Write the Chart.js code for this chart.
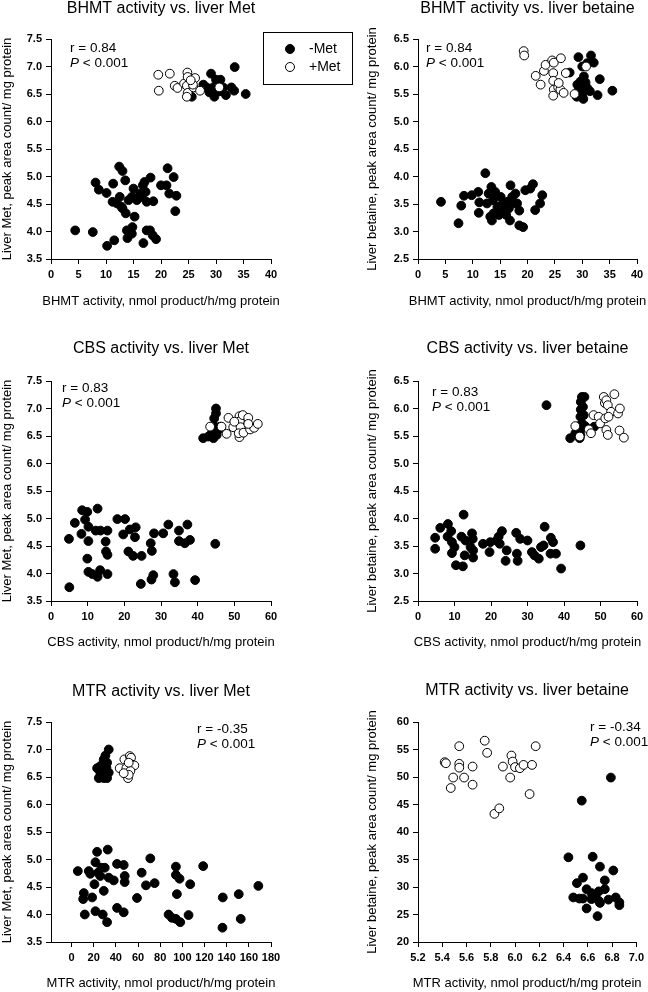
<!DOCTYPE html>
<html lang="en">
<head>
<meta charset="UTF-8">
<title>Enzyme activity vs. liver Met / betaine</title>
<script src="https://cdn.jsdelivr.net/npm/chart.js"></script>
<style>
  html, body { margin: 0; padding: 0; background: #fff; }
  #wrap { position: relative; width: 648px; height: 992px; }
  canvas { position: absolute; }
</style>
</head>
<body>
<div id="wrap">
  <canvas id="c1" width="370" height="320" style="left:0;top:0"></canvas>
  <canvas id="c2" width="324" height="320" style="left:324px;top:0"></canvas>
  <canvas id="c3" width="324" height="330" style="left:0;top:320px"></canvas>
  <canvas id="c4" width="324" height="330" style="left:324px;top:320px"></canvas>
  <canvas id="c5" width="324" height="342" style="left:0;top:650px"></canvas>
  <canvas id="c6" width="324" height="342" style="left:324px;top:650px"></canvas>
</div>
<script>
// groups
const groupLabels = ['-Met', '+Met'];

// tick values
const metTicks = [3.5, 4.0, 4.5, 5.0, 5.5, 6.0, 6.5, 7.0, 7.5];
const betaineTicks = [2.5, 3.0, 3.5, 4.0, 4.5, 5.0, 5.5, 6.0, 6.5];
const betaineTicks2 = [20, 25, 30, 35, 40, 45, 50, 55, 60];
const bhmtTicks = [0, 5, 10, 15, 20, 25, 30, 35, 40];
const cbsTicks = [0, 10, 20, 30, 40, 50, 60];
const mtrTicks = [0, 20, 40, 60, 80, 100, 120, 140, 160, 180];
const mtrTicks2 = [5.2, 5.4, 5.6, 5.8, 6.0, 6.2, 6.4, 6.6, 6.8, 7.0];

// BHMT activity vs. liver Met
const bhmtMetMinus = [[4.4,4.02],[7.6,3.99],[8.1,4.89],[8.7,4.76],[10.1,4.70],[10.2,3.74],[11.5,3.84],[11.3,4.87],[11.2,4.54],[12.4,5.18],[13.0,5.10],[13.5,4.93],[12.5,4.63],[13.0,4.42],[13.6,4.33],[14.1,4.57],[13.8,4.02],[13.9,3.88],[14.8,4.08],[14.7,3.96],[15.2,4.27],[15.0,4.78],[15.6,4.57],[16.2,4.69],[16.7,4.84],[17.0,4.90],[17.2,4.72],[17.4,4.54],[16.8,3.79],[17.4,4.02],[18.0,4.02],[18.1,4.98],[18.6,4.55],[18.5,3.93],[19.1,3.86],[20.0,4.84],[21.0,4.84],[21.2,5.15],[21.5,4.69],[22.3,4.99],[22.8,4.65],[22.6,4.37],[16.5,4.63],[14.7,4.63],[12.0,4.51],[12.8,4.45],
  [29.1,6.87],[30.0,6.76],[30.5,6.66],[30.7,6.55],[29.7,6.45],[28.3,6.62],[27.7,6.67],[25.6,6.45],[33.3,6.56],[31.8,6.48],[32.8,6.62],[33.4,6.99],[35.4,6.50],[31.3,6.62],[30.1,6.58],[29.5,6.62],[28.8,6.53],[30.8,6.76]];
const bhmtMetPlus = [[19.5,6.85],[19.6,6.56],[21.6,6.87],[22.5,6.65],[23.0,6.61],[24.2,6.69],[24.8,6.89],[24.85,6.81],[24.7,6.65],[24.85,6.52],[24.7,6.45],[26.2,6.79],[25.9,6.62],[25.8,6.67],[27.1,6.56],[30.6,6.62],[25.4,6.75]];

// BHMT activity vs. liver betaine
const bhmtBetMinus = [[4.2,3.54],[7.4,3.15],[7.9,3.47],[8.4,3.65],[9.8,3.66],[11.0,3.72],[11.2,3.53],[11.1,3.34],[12.3,4.06],[12.9,3.69],[13.4,3.81],[13.7,3.57],[14.1,3.72],[13.5,3.20],[14.5,3.45],[14.8,3.30],[15.5,3.51],[16.0,3.39],[16.3,3.54],[16.8,3.20],[16.9,3.84],[17.2,3.63],[17.5,3.51],[17.8,3.69],[18.1,3.51],[18.5,3.38],[18.5,3.11],[19.2,3.08],[19.6,3.75],[20.5,3.78],[21.0,3.86],[21.4,3.39],[22.3,3.51],[22.7,3.66],[15.1,3.63],[15.7,3.42],[12.6,3.51],[13.8,3.33],[16.6,3.42],[16.1,3.30],[13.2,3.27],
  [29.3,6.17],[30.9,6.06],[31.6,6.20],[32.1,6.07],[30.0,6.00],[30.3,5.82],[30.4,5.64],[29.4,5.58],[29.0,5.45],[30.2,5.41],[30.9,5.61],[31.4,5.55],[32.8,5.48],[33.2,5.77],[35.5,5.56],[27.7,5.89],[29.7,5.73],[29.1,5.67],[30.6,5.71],[30.0,5.49]];
const bhmtBetPlus = [[19.3,6.28],[19.4,6.20],[21.5,5.83],[22.4,5.67],[23.0,5.92],[23.3,6.03],[24.5,6.11],[24.8,6.07],[26.1,6.15],[24.7,5.88],[24.7,5.74],[24.8,5.58],[24.7,5.47],[25.6,5.62],[26.0,5.58],[26.6,5.52],[28.6,5.50],[27.0,5.88],[30.7,6.00],[25.7,5.70]];

// CBS activity vs. liver Met
const cbsMetMinus = [[5.0,3.75],[4.9,4.63],[6.5,4.92],[8.3,4.72],[8.5,5.15],[9.3,4.98],[9.9,5.12],[10.2,4.85],[9.9,4.27],[10.2,4.59],[10.2,4.03],[11.3,3.99],[12.7,3.94],[12.2,4.78],[12.7,5.18],[13.4,4.06],[13.5,4.78],[14.9,4.58],[15.4,4.78],[15.4,4.34],[15.4,3.99],[15.0,4.40],[18.1,4.99],[20.2,4.99],[19.7,4.71],[21.1,4.40],[21.5,4.80],[22.4,4.32],[22.9,4.66],[23.1,4.84],[24.7,4.32],[24.5,3.81],[27.2,4.55],[27.5,4.41],[28.1,4.73],[27.9,3.97],[27.4,3.89],[30.6,4.73],[32.0,4.89],[33.4,3.99],[33.8,3.84],[34.9,4.78],[34.9,4.59],[36.5,4.55],[37.2,4.89],[37.9,4.61],[39.3,3.88],[44.8,4.54],
  [45.0,7.00],[45.0,6.91],[44.5,6.82],[41.5,6.46],[42.9,6.49],[44.3,6.46],[45.2,6.52],[45.6,6.61],[44.7,6.67],[44.1,6.58],[46.1,6.67],[43.5,6.52]];
const cbsMetPlus = [[43.4,6.67],[46.5,6.67],[48.4,6.83],[49.7,6.66],[47.9,6.54],[51.4,6.86],[51.5,6.77],[52.3,6.88],[53.8,6.83],[51.7,6.66],[51.4,6.48],[51.2,6.55],[52.5,6.56],[54.3,6.62],[55.4,6.65],[56.4,6.72],[53.8,6.72],[50.0,6.76]];

// CBS activity vs. liver betaine
const cbsBetMinus = [[4.7,3.65],[4.7,3.45],[6.1,3.83],[8.2,3.90],[8.1,3.67],[9.1,3.77],[9.3,3.57],[9.3,3.37],[10.0,3.48],[10.4,3.15],[12.3,3.13],[12.5,4.07],[11.9,3.67],[13.0,3.60],[12.8,3.33],[14.8,3.73],[15.0,3.63],[15.1,3.42],[15.1,3.29],[14.4,3.48],[17.8,3.54],[19.6,3.39],[19.8,3.57],[21.5,3.60],[22.1,3.67],[23.0,3.77],[22.4,3.54],[24.3,3.42],[24.0,3.23],[26.9,3.74],[28.0,3.63],[27.1,3.36],[27.3,3.23],[30.0,3.60],[31.2,3.39],[31.9,3.33],[33.1,3.27],[33.7,3.48],[34.7,3.85],[34.4,3.51],[36.4,3.65],[37.0,3.57],[36.3,3.36],[37.8,3.36],[39.2,3.09],[44.5,3.51],
  [35.2,6.06],[41.7,5.46],[44.9,6.21],[44.6,6.12],[44.6,5.98],[44.5,5.85],[44.9,5.73],[44.5,5.61],[44.5,5.52],[44.3,5.46],[45.6,6.21],[45.2,6.03],[45.4,5.88],[43.1,5.55],[45.8,5.68],[48.3,5.67]];
const cbsBetPlus = [[43.1,5.68],[44.3,5.49],[46.8,5.62],[47.4,5.55],[48.1,5.88],[49.5,5.85],[49.9,5.73],[50.9,6.21],[51.2,6.10],[51.6,6.15],[52.0,6.06],[51.3,5.82],[51.6,5.61],[52.0,5.52],[52.9,5.94],[53.8,6.26],[54.8,5.91],[55.3,6.00],[55.2,5.60],[56.4,5.47],[52.2,5.85]];

// MTR activity vs. liver Met
const mtrMetMinus = [[5.7,4.79],[11.1,4.39],[10.5,4.28],[12.0,4.00],[15.6,4.79],[18.6,4.31],[20.7,4.55],[21.6,4.95],[23.1,5.14],[21.6,4.06],[24.0,4.76],[27.0,4.85],[28.2,4.00],[29.1,4.43],[30.0,4.85],[32.1,3.86],[32.7,5.18],[33.6,4.67],[38.1,4.62],[41.1,4.92],[41.1,4.12],[47.1,4.04],[47.1,4.90],[48.0,4.70],[48.0,4.59],[59.1,4.30],[63.3,4.76],[67.2,4.53],[71.1,5.02],[75.0,4.57],[87.6,4.00],[90.6,3.94],[94.2,4.87],[94.2,4.72],[95.1,4.37],[97.5,4.65],[98.1,3.86],[94.2,3.92],[105.6,3.99],[107.1,4.55],[118.8,4.88],[136.2,3.76],[136.5,4.31],[150.9,4.37],[152.7,3.92],[168.6,4.52],[17.0,4.74],[26.0,4.70],
  [33.6,7.00],[29.1,6.82],[26.1,6.70],[24.6,6.64],[24.6,6.48],[29.1,6.48],[32.1,6.48],[27.6,6.58],[31.5,6.67],[32.1,6.76],[33.6,6.58],[26.1,6.55],[29.7,6.71],[23.1,6.66],[30.6,6.89]];
const mtrMetPlus = [[43.5,6.66],[47.7,6.82],[49.5,6.66],[49.5,6.54],[51.0,6.48],[52.5,6.88],[53.7,6.85],[54.0,6.73],[56.7,6.71],[53.1,6.61],[51.6,6.54],[47.1,6.57],[51.6,6.76]];

// MTR activity vs. liver betaine
const mtrBetMinus = [[6.44,35.4],[6.55,45.7],[6.79,49.9],[6.64,35.5],[6.70,33.7],[6.81,33.0],[6.56,31.7],[6.51,30.7],[6.74,31.2],[6.59,29.6],[6.48,28.1],[6.56,27.9],[6.59,26.1],[6.63,28.9],[6.66,28.3],[6.69,29.2],[6.74,29.6],[6.69,27.5],[6.68,24.7],[6.77,27.7],[6.83,28.1],[6.86,27.2],[6.86,26.7],[6.70,27.1],[6.63,27.8],[6.53,27.9]];
const mtrBetPlus = [[5.42,52.7],[5.43,52.5],[5.49,49.9],[5.47,48.0],[5.54,55.6],[5.54,52.4],[5.54,51.7],[5.58,49.9],[5.65,51.9],[5.65,48.6],[5.75,56.6],[5.77,54.4],[5.83,43.3],[5.87,44.3],[5.90,51.9],[5.96,49.9],[5.97,53.9],[5.98,52.8],[6.00,51.8],[6.04,51.6],[6.07,52.2],[6.12,46.9],[6.14,52.2],[6.17,55.6]];

const FONT = '"Liberation Sans", Arial, sans-serif';
const yTitleMet = 'Liver Met, peak area count/ mg protein';
const yTitleBet = 'Liver betaine, peak area count/ mg protein';
const xName = n => n + ' activity, nmol product/h/mg protein';

// titles, axis titles, stats and the framed legend (drawn without width squeeze)
const panelText = {
  id: 'panelText',
  afterDraw(chart, args, o) {
    const ctx = chart.ctx;
    const a = chart.chartArea;
    const cx = (a.left + a.right) / 2;
    ctx.save();
    ctx.fillStyle = '#000';
    ctx.textAlign = 'center';
    ctx.textBaseline = 'alphabetic';
    ctx.font = '16px ' + FONT;
    ctx.fillText(o.title, cx, o.titleY);

    ctx.textBaseline = 'middle';
    ctx.font = '13px ' + FONT;
    ctx.fillText(o.xTitle, cx, o.xTitleY);
    ctx.save();
    ctx.translate(o.yTitleX, (a.top + a.bottom) / 2);
    ctx.rotate(-Math.PI / 2);
    ctx.fillText(o.yTitle, 0, 0);
    ctx.restore();

    ctx.textAlign = 'left';
    ctx.font = '13.5px ' + FONT;
    ctx.fillText(o.r, o.statX, o.statY);
    ctx.font = 'italic 13.5px ' + FONT;
    ctx.fillText('P', o.statX, o.statY + 15);
    const pw = ctx.measureText('P').width;
    ctx.font = '13.5px ' + FONT;
    ctx.fillText(' < 0.001', o.statX + pw, o.statY + 15);

    if (o.legend) {
      const L = o.legend;
      ctx.strokeStyle = '#000';
      ctx.lineWidth = 1;
      ctx.strokeRect(L.x + 0.5, L.y + 0.5, L.w, L.h);
      groupLabels.forEach((lab, i) => {
        const cy = L.y + 17 + i * 18;
        ctx.beginPath();
        ctx.arc(L.x + 27, cy, 4.5, 0, Math.PI * 2);
        ctx.fillStyle = i === 0 ? '#000' : '#fff';
        ctx.fill();
        ctx.stroke();
        ctx.fillStyle = '#000';
        ctx.font = '14px ' + FONT;
        ctx.fillText(lab, L.x + 46, cy);
      });
    }
    ctx.restore();
  }
};

function axis(min, max, ticks, dec, size) {
  return {
    type: 'linear',
    min: min,
    max: max,
    afterBuildTicks: s => { s.ticks = ticks.map(v => ({ value: v })); },
    afterFit: s => { if (s.isHorizontal()) s.height = size; else s.width = size; },
    border: { display: true, color: '#000', width: 1 },
    grid: { drawOnChartArea: false, drawTicks: true, tickLength: 5, color: '#000' },
    ticks: {
      color: '#000', padding: 4, autoSkip: false, maxRotation: 0,
      font: { family: FONT, size: 11, weight: 'bold' },
      callback: v => v.toFixed(dec)
    },
    title: { display: false }
  };
}

function panel(id, minus, plus, xs, ys, layout, text) {
  new Chart(document.getElementById(id), {
    type: 'scatter',
    data: {
      datasets: [
        { label: groupLabels[0], data: minus.map(p => ({ x: p[0], y: p[1] })), order: 1,
          backgroundColor: '#000', borderColor: '#000', borderWidth: 1, pointRadius: 4.4 },
        { label: groupLabels[1], data: plus.map(p => ({ x: p[0], y: p[1] })), order: 0,
          backgroundColor: '#fff', borderColor: '#000', borderWidth: 1, pointRadius: 4.4 }
      ]
    },
    options: {
      responsive: false,
      animation: false,
      devicePixelRatio: 1,
      clip: false,
      layout: { padding: layout },
      plugins: { legend: { display: false }, tooltip: { enabled: false }, panelText: text },
      scales: { x: xs, y: ys }
    },
    plugins: [panelText]
  });
}

panel('c1', bhmtMetMinus, bhmtMetPlus,
  axis(0, 40, bhmtTicks, 0, 61),
  axis(3.5, 7.5, metTicks, 1, 51),
  { left: 0, right: 99, top: 39, bottom: 0 },
  { title: 'BHMT activity vs. liver Met', titleY: 12.5,
    xTitle: xName('BHMT'), xTitleY: 301, yTitle: yTitleMet, yTitleX: 7,
    r: 'r = 0.84', statX: 70, statY: 48,
    legend: { x: 263, y: 32, w: 89, h: 52 } });

panel('c2', bhmtBetMinus, bhmtBetPlus,
  axis(0, 40, bhmtTicks, 0, 61),
  axis(2.5, 6.5, betaineTicks, 1, 54),
  { left: 40, right: 11, top: 39, bottom: 0 },
  { title: 'BHMT activity vs. liver betaine', titleY: 12.5,
    xTitle: xName('BHMT'), xTitleY: 301, yTitle: yTitleBet, yTitleX: 48.5,
    r: 'r = 0.84', statX: 102, statY: 48 });

panel('c3', cbsMetMinus, cbsMetPlus,
  axis(0, 60, cbsTicks, 0, 49),
  axis(3.5, 7.5, metTicks, 1, 51),
  { left: 0, right: 53, top: 61, bottom: 0 },
  { title: 'CBS activity vs. liver Met', titleY: 33,
    xTitle: xName('CBS'), xTitleY: 322, yTitle: yTitleMet, yTitleX: 7,
    r: 'r = 0.83', statX: 62, statY: 68 });

panel('c4', cbsBetMinus, cbsBetPlus,
  axis(0, 60, cbsTicks, 0, 49),
  axis(2.5, 6.5, betaineTicks, 1, 54),
  { left: 40, right: 11, top: 61, bottom: 0 },
  { title: 'CBS activity vs. liver betaine', titleY: 33,
    xTitle: xName('CBS'), xTitleY: 322, yTitle: yTitleBet, yTitleX: 48.5,
    r: 'r = 0.83', statX: 108, statY: 72 });

panel('c5', mtrMetMinus, mtrMetPlus,
  axis(-18.5, 180, mtrTicks, 0, 50),
  axis(3.5, 7.5, metTicks, 1, 51),
  { left: 0, right: 53, top: 72, bottom: 0 },
  { title: 'MTR activity vs. liver Met', titleY: 46,
    xTitle: xName('MTR'), xTitleY: 333, yTitle: yTitleMet, yTitleX: 7,
    r: 'r = -0.35', statX: 197, statY: 79 });

panel('c6', mtrBetMinus, mtrBetPlus,
  axis(5.2, 7.0, mtrTicks2, 1, 50),
  axis(20, 60, betaineTicks2, 0, 54),
  { left: 40, right: 11, top: 72, bottom: 0 },
  { title: 'MTR activity vs. liver betaine', titleY: 45,
    xTitle: xName('MTR'), xTitleY: 333, yTitle: yTitleBet, yTitleX: 48.5,
    r: 'r = -0.34', statX: 266, statY: 77 });
</script>
</body>
</html>
